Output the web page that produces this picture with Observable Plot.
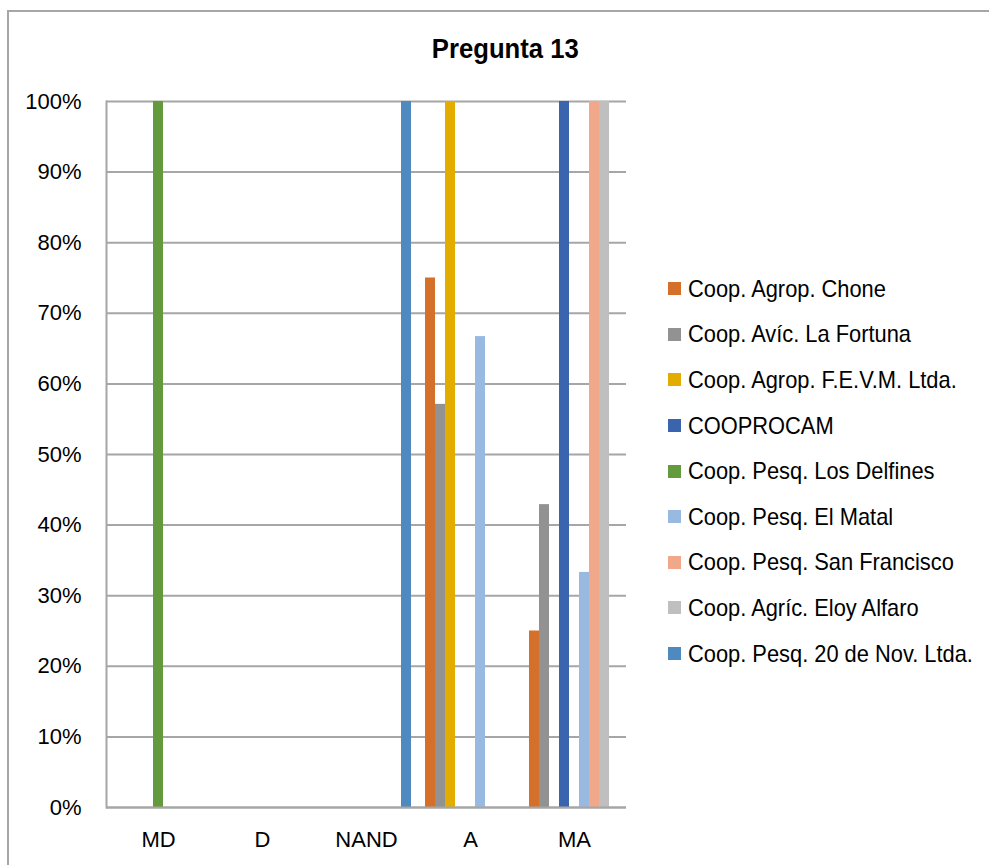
<!DOCTYPE html>
<html><head><meta charset="utf-8">
<script src="https://cdn.jsdelivr.net/npm/d3@7"></script>
<script src="https://cdn.jsdelivr.net/npm/@observablehq/plot@0.6"></script>
<style>
body{margin:0;background:#fff;}
#wrap{position:relative;width:989px;height:865px;overflow:hidden;font-family:"Liberation Sans",Arial,sans-serif;color:#000;}
#border{position:absolute;left:7px;top:10px;width:1000px;height:900px;border-left:2px solid #a6a6a6;border-top:2px solid #a6a6a6;}
#title{position:absolute;top:36px;left:0;width:1010px;text-align:center;font-weight:bold;font-size:27px;line-height:27px;}
#title span{display:inline-block;transform:scaleX(0.95);}
#chart{position:absolute;left:0;top:0;}
#legend{position:absolute;left:668px;top:266px;}
.row{display:flex;align-items:center;height:45.6px;font-size:24px;white-space:nowrap;}
.row span{display:inline-block;transform:scaleX(0.91);transform-origin:0 50%;}
.sw{width:13px;height:13px;margin-right:7px;flex:none;}
</style>
</head><body>
<div id="wrap">
<div id="border"></div>
<div id="chart"></div>
<div id="title"><span>Pregunta 13</span></div>
<div id="legend"></div>
</div>
<script>
const categories = ["MD", "D", "NAND", "A", "MA"];
const series = [
  "Coop. Agrop. Chone",
  "Coop. Avíc. La Fortuna",
  "Coop. Agrop. F.E.V.M. Ltda.",
  "COOPROCAM",
  "Coop. Pesq. Los Delfines",
  "Coop. Pesq. El Matal",
  "Coop. Pesq. San Francisco",
  "Coop. Agríc. Eloy Alfaro",
  "Coop. Pesq. 20 de Nov. Ltda."
];
const colors = ["#D4702A", "#929292", "#E2AC00", "#3A64AD", "#629A3D", "#98B9E0", "#F1A88A", "#BFBFBF", "#4E8ABF"];
// values per series, in the order of categories (MD, D, NAND, A, MA)
const chone      = [0, 0, 0, 0.75, 0.25];
const laFortuna  = [0, 0, 0, 0.571, 0.429];
const fevm       = [0, 0, 0, 1.00, 0];
const cooprocam  = [0, 0, 0, 0, 1.00];
const delfines   = [1.00, 0, 0, 0, 0];
const elMatal    = [0, 0, 0, 0.667, 0.333];
const sanFran    = [0, 0, 0, 0, 1.00];
const eloyAlfaro = [0, 0, 0, 0, 1.00];
const nov20      = [0, 0, 1.00, 0, 0];
const yTicks = [0, 0.1, 0.2, 0.3, 0.4, 0.5, 0.6, 0.7, 0.8, 0.9, 1.0];

const seriesValues = [chone, laFortuna, fevm, cooprocam, delfines, elMatal, sanFran, eloyAlfaro, nov20];
const rows = [];
series.forEach((s, i) => {
  categories.forEach((c, j) => {
    rows.push({cat: c, series: s, value: seriesValues[i][j]});
  });
});

const chart = Plot.plot({
  width: 989,
  height: 865,
  marginLeft: 106,
  marginRight: 363,
  marginTop: 101,
  marginBottom: 58,
  style: {fontFamily: '"Liberation Sans",Arial,sans-serif', fontSize: "22px", color: "#000", background: "transparent", overflow: "visible"},
  fx: {domain: categories, padding: 0, axis: "bottom", tickSize: 0, tickPadding: 24, label: null},
  x: {domain: series, paddingInner: 0, paddingOuter: 0.7, axis: null},
  y: {domain: [0, 1], ticks: yTicks, tickFormat: d3.format(".0%"), tickSize: 0, tickPadding: 25, label: null, line: true},
  color: {domain: series, range: colors},
  marks: [
    Plot.ruleY(yTicks, {stroke: "#a6a6a6", strokeWidth: 2}),
    Plot.barY(rows, {fx: "cat", x: "series", y: "value", fill: "series"}),
    Plot.ruleY([0], {stroke: "#a6a6a6", strokeWidth: 2})
  ]
});
document.getElementById("chart").appendChild(chart);

// axis line drawn by Plot in gray, like the reference
d3.select(chart).selectAll("[stroke='currentColor']").attr("stroke", "#a6a6a6").attr("stroke-width", 2);

const legend = d3.select("#legend");
series.forEach((s, i) => {
  const r = legend.append("div").attr("class", "row");
  r.append("div").attr("class", "sw").style("background", colors[i]);
  r.append("span").text(s);
});
</script>
</body></html>
